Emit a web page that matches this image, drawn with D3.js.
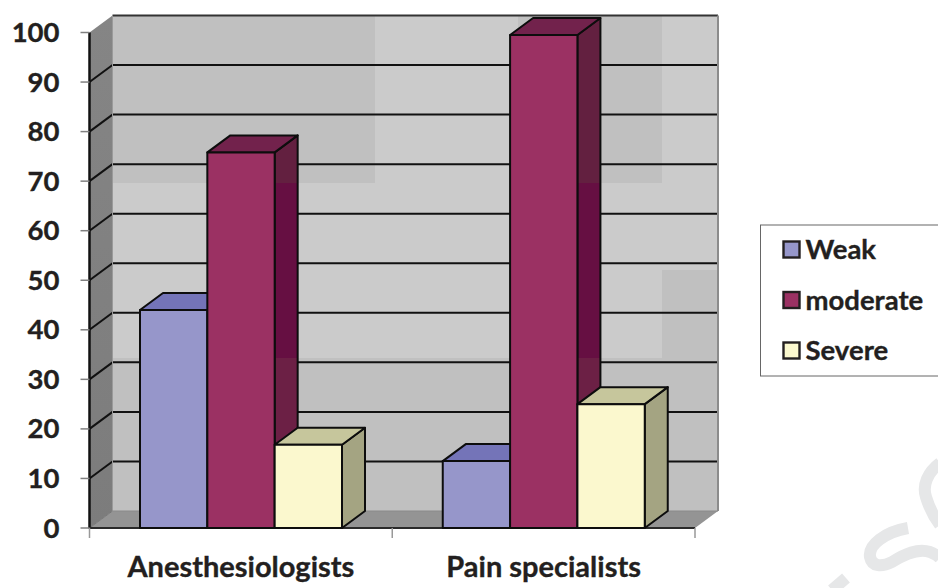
<!DOCTYPE html>
<html><head><meta charset="utf-8"><style>html,body{margin:0;padding:0;background:#fff}svg{display:block}text{font-family:Lato,sans-serif;font-weight:700;fill:#231f20;stroke:#231f20;stroke-width:.35px}</style>
<script src="https://cdn.jsdelivr.net/npm/d3@7"></script></head><body><svg id="c" width="938" height="588"></svg>
<script>
const categories = ["Anesthesiologists", "Pain specialists"];
const seriesNames = ["Weak", "moderate", "Severe"];
const weak = [44, 13.5];
const moderate = [75.8, 99.5];
const severe = [16.8, 25];
const yTicks = [0,10,20,30,40,50,60,70,80,90,100];

const seriesValues = [weak, moderate, severe];
const front = ["#9696ca","#9b3163","#fbf8ce"];
const topC = ["#7474b8","#72224c","#c6c69c"];
const sideC = ["#5f5f90","#660f42","#a4a482"];
const svg = d3.select("#c");
const dx = 23, dy = -17;
const y = d3.scaleLinear().domain([0,100]).range([528,32.5]);
const x0 = d3.scaleBand().domain(categories).range([89.5,695]);
const inner = d3.scaleBand().domain(seriesNames).range([50.5, 252.5]);
const L = x0.range()[0], R = x0.range()[1], Y0 = y(0), Y1 = y(100);
const poly = (p,f,s,w) => svg.append("polygon").attr("points",p.map(d=>d.join(",")).join(" ")).attr("fill",f).attr("stroke",s||"none").attr("stroke-width",w||0).attr("stroke-linejoin","round");
const line = (a,b,c,d,s,w) => svg.append("line").attr("x1",a).attr("y1",b).attr("x2",c).attr("y2",d).attr("stroke",s).attr("stroke-width",w);

// faint watermark strokes in the page corner
["M908 528C885 532 868 545 870 557C872 567 882 567 892 562C905 554 918 548 930 552C935 554 938 556 940 558",
 "M940 463C928 472 922 485 926 497C929 507 934 517 940 525",
 "M846 578L832 590"].forEach(d=>
  svg.append("path").attr("d",d).attr("fill","none").attr("stroke","#e6e7e8").attr("stroke-width",12));

// gradient defs
const defs = svg.append("defs");
const wg = defs.append("linearGradient").attr("id","wallSide").attr("x1",0).attr("x2",0).attr("y1",0).attr("y2",1);
wg.append("stop").attr("offset",0).attr("stop-color","#858585");
wg.append("stop").attr("offset",1).attr("stop-color","#7c7c7c");
const band1 = 183, band2 = 358;
const sg = defs.append("linearGradient").attr("id","modSide").attr("gradientUnits","userSpaceOnUse").attr("x1",0).attr("x2",0).attr("y1",0).attr("y2",588);
[[0,"#632040"],[band1/588,"#632040"],[band1/588,"#660f42"],[band2/588,"#660f42"],[band2/588,"#6c2045"],[1,"#6c2045"]].forEach(d=>sg.append("stop").attr("offset",d[0]).attr("stop-color",d[1]));

// back wall
const bl = L+dx, br = R+dx, bt = Y1+dy, bb = Y0+dy;
svg.append("rect").attr("x",bl).attr("y",bt).attr("width",br-bl).attr("height",bb-bt).attr("fill","#cbcbcb");
const dark = "#c0c0c0";
[[bl,375,bt,band1],[518,662,bt,band1],[bl,br,band2,bb],[662,br,270,bb]].forEach(r=>
  svg.append("rect").attr("x",r[0]).attr("y",r[2]).attr("width",r[1]-r[0]).attr("height",r[3]-r[2]).attr("fill",dark));
// left wall, floor
poly([[L,Y1],[bl,bt],[bl,bb],[L,Y0]],"url(#wallSide)");
poly([[L,Y0],[R,Y0],[br,bb],[bl,bb]],"#949494");
// gridlines
yTicks.filter(t=>t>0).forEach(t=>{
  const yy=y(t);
  if(t<100) line(L,yy,bl,yy+dy,"#111",2);
  line(bl,yy+dy,br,yy+dy,t==100?"#333":"#111",2);
});
line(bl,bb,br,bb,"#8a8a8a",1);
line(bl,bt,bl,bb,"#9a9a9a",1);
line(br,bt,br,bb,"#8c8c8c",2);
line(L,Y0,bl,bb,"#777",1);
// axis
line(L,Y1,L,Y0,"#111",2.5);
line(L-1,Y0,R,Y0,"#2a2a2a",2);
yTicks.forEach(t=>{
  line(L-9,y(t),L,y(t),"#808080",1.5);
  svg.append("text").attr("x",59.5).attr("y",y(t)+9.5).attr("text-anchor","end").attr("font-size",27.5).text(t);
});
[L,L+x0.step(),R].forEach(v=>line(v,Y0,v,Y0+10,"#999",1.5));

// bars
categories.forEach((c,ci)=>{
  seriesNames.forEach((s,si)=>{
    const v = seriesValues[si][ci];
    const a = x0(c)+inner(s), b = a+inner.bandwidth(), t = y(v);
    const st="#0d0d0d", w=2;
    poly([[b,t],[b+dx,t+dy],[b+dx,Y0+dy],[b,Y0]], si==1?"url(#modSide)":sideC[si], st, w);
    poly([[a,t],[a+dx,t+dy],[b+dx,t+dy],[b,t]], topC[si], st, w);
    poly([[a,t],[b,t],[b,Y0],[a,Y0]], front[si], st, w);
  });
  svg.append("text").attr("x",x0(c)+x0.bandwidth()/2).attr("y",577).attr("text-anchor","middle").attr("font-size",29).text(c);
});

// legend
svg.append("rect").attr("x",760.5).attr("y",225).attr("width",200).attr("height",151).attr("fill","#fff").attr("stroke","#666").attr("stroke-width",1);
seriesNames.forEach((s,i)=>{
  const yy=250+i*50.5;
  svg.append("rect").attr("x",783.5).attr("y",yy-8.5).attr("width",16).attr("height",16).attr("fill",front[i]).attr("stroke","#231f20").attr("stroke-width",2.4);
  svg.append("text").attr("x",805.5).attr("y",yy+9).attr("font-size",27.5).text(s);
});
</script></body></html>
